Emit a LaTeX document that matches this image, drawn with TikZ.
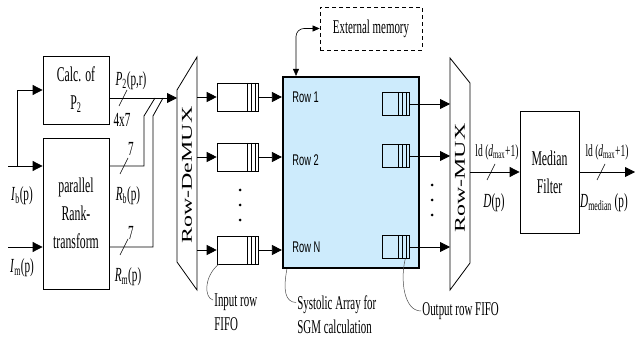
\documentclass[tikz,border=0pt]{standalone}
\usepackage{fontspec}
\setmainfont{Liberation Serif}[FakeStretch=0.56]
\newfontfamily\rowfont{Liberation Sans}[FakeStretch=0.6]
\newfontfamily\muxfont{Liberation Serif}[FakeStretch=1.6]
\usetikzlibrary{arrows.meta}
\definecolor{sgablue}{RGB}{205,235,252}

\begin{document}
\begin{tikzpicture}[x=1pt,y=-1pt,line width=0.8pt]
        \tikzstyle{blk}=[draw,align=center,font=\fontsize{21}{28}\selectfont]
        \tikzstyle{wire}=[-{Triangle[length=10pt,width=10pt]}]
        \tikzstyle{fifo}=[draw,line width=0.6pt,minimum width=41pt,minimum height=28pt,inner sep=0pt,
            path picture={\foreach \off in {3,7,11} \draw[line width=0.5pt] ([xshift=-\off pt]path picture bounding box.north east) -- ([xshift=-\off pt]path picture bounding box.south east);}]
        \tikzstyle{ofifo}=[fifo,minimum width=27pt,minimum height=23pt]
        \tikzstyle{lbl}=[font=\fontsize{20}{20}\selectfont,inner sep=0pt]
        \tikzstyle{muxlbl}=[font=\muxfont\fontsize{15}{15}\selectfont,rotate=90]
        \tikzstyle{rowlbl}=[font=\rowfont\fontsize{15.5}{15}\selectfont,anchor=west,inner sep=0pt]
        \tikzstyle{note}=[font=\fontsize{19.5}{24}\selectfont,align=left,anchor=west,inner sep=1pt]
        \tikzstyle{lead}=[line width=0.5pt,gray!60!black]
        \useasboundingbox (0,0) rectangle (635,342);

        \node[blk,minimum width=66pt,minimum height=68pt] (calc) at (76,90) {Calc. of\\P\textsubscript{2}};
        \node[blk,minimum width=66pt,minimum height=151pt] (rank) at (76,213.5) {parallel\\Rank-\\transform};
        \coordinate (ib) at (8,166);
        \coordinate (im) at (8,247);
        \coordinate (split) at (17,166);
        \draw[wire] (ib) -- (ib -| rank.west);
        \draw[wire] (split) |- (calc.west);
        \draw[wire] (im) -- (im -| rank.west);
        \node[lbl] (iblbl) at (22,196) {\textit{I}\textsubscript{b}(p)};
        \node[lbl] (imlbl) at (22,268) {\textit{I}\textsubscript{m}(p)};

        \coordinate (dmx-a) at (177,90);
        \coordinate (dmx-b) at (197,57);
        \coordinate (dmx-c) at (197,290);
        \coordinate (dmx-d) at (177,262);
        \draw (dmx-a) -- (dmx-b) -- (dmx-c) -- (dmx-d) -- cycle;
        \node[muxlbl] (dmxlbl) at (187,175) {Row-DeMUX};

        \coordinate (p2) at (109,98);
        \draw[wire] (p2) -- (p2 -| dmx-a);
        \draw (rank.east |- ib) -- (144,166) -- (144,116) -- (155,98);
        \draw (rank.east |- im) -- (153,247) -- (153,116) -- (163,98);
        \foreach \x/\y in {123/98,124/166,124/247,491/172,601/172}
            \draw[line width=0.6pt] (\x,\y) ++(-4,8) -- ++(8,-16);
        \node[lbl] (p2lbl) at (131,81) {\textit{P}\textsubscript{2}(p,r)};
        \node[lbl] (p2w) at (122,120) {4x7};
        \node[lbl] (rbw) at (131,149) {7};
        \node[lbl] (rblbl) at (128,196) {\textit{R}\textsubscript{b}(p)};
        \node[lbl] (rmw) at (131,233) {7};
        \node[lbl] (rmlbl) at (128,277) {\textit{R}\textsubscript{m}(p)};

        \node[draw,line width=2.2pt,fill=sgablue,minimum width=136pt,minimum height=191pt] (sga) at (351,172.5) {};
        \node[rowlbl] (r1) at (292,97) {Row 1};
        \node[rowlbl] (r2) at (292,160) {Row 2};
        \node[rowlbl] (rn) at (292,247) {Row N};

        \node[fifo] (if1) at (237.5,97) {};
        \node[fifo] (if2) at (237.5,157) {};
        \node[fifo] (ifn) at (237.5,250) {};
        \foreach \fifo in {if1,if2,ifn} {
            \draw[wire] (dmx-b |- \fifo) -- (\fifo.west);
            \draw[wire] (\fifo.east) -- (\fifo -| sga.west);
        }
        \foreach \y in {190,205,220} \fill (240,\y) circle (1.5pt);

        \coordinate (mx-a) at (450,58);
        \coordinate (mx-b) at (470,83);
        \coordinate (mx-c) at (470,263);
        \coordinate (mx-d) at (450,290);
        \draw (mx-a) -- (mx-b) -- (mx-c) -- (mx-d) -- cycle;
        \node[muxlbl] (mxlbl) at (460,178) {Row-MUX};

        \node[ofifo] (of1) at (395.5,104) {};
        \node[ofifo] (of2) at (395.5,156) {};
        \node[ofifo] (ofn) at (395.5,247) {};
        \foreach \fifo in {of1,of2,ofn}
            \draw[wire] (\fifo.east) -- (\fifo -| mx-a);
        \foreach \y in {185,200,215} \fill (432,\y) circle (1.5pt);

        \node[blk,minimum width=59pt,minimum height=122pt] (med) at (549.5,172) {Median\\Filter};
        \coordinate (out) at (635,172);
        \draw[wire] (mx-b |- med) -- (med.west);
        \draw[wire] (med.east) -- (out);
        \node[lbl,font=\fontsize{17}{18}\selectfont] (dw1) at (497,152) {ld (\textit{d}\textsubscript{max}+1)};
        \node[lbl] (dlbl) at (494,203) {\textit{D}(p)};
        \node[lbl,font=\fontsize{17}{18}\selectfont] (dw2) at (607,152) {ld (\textit{d}\textsubscript{max}+1)};
        \node[lbl] (dmlbl) at (604,203) {\textit{D}\textsubscript{median} (p)};

        \node[draw,dash pattern=on 4pt off 3pt,line width=0.7pt,minimum width=102pt,minimum height=43pt,font=\fontsize{19.5}{20}\selectfont] (mem) at (371,28.5) {External memory};
        \draw[{Triangle[length=7pt,width=6pt]}-{Triangle[length=7pt,width=6pt]},rounded corners=8pt,line width=0.6pt] ([xshift=-55pt]sga.north) |- (mem.west);

        \node[note] (ifnote) at (213,312) {Input row\\FIFO};
        \draw[lead] ([xshift=2pt]ifn.south west) .. controls (204,276) and (204,298) .. ([yshift=12pt]ifnote.west);
        \node[note] (sganote) at (296,314.5) {Systolic Array for\\SGM calculation};
        \draw[lead] ([xshift=5pt]sga.south west) .. controls (283,290) and (285,302) .. ([yshift=12pt]sganote.west);
        \node[note] (ofnote) at (421,311) {Output row FIFO};
        \draw[lead] ([xshift=-4pt]ofn.south east) .. controls (400,280) and (404,311) .. (ofnote.west);
\end{tikzpicture}
\end{document}
